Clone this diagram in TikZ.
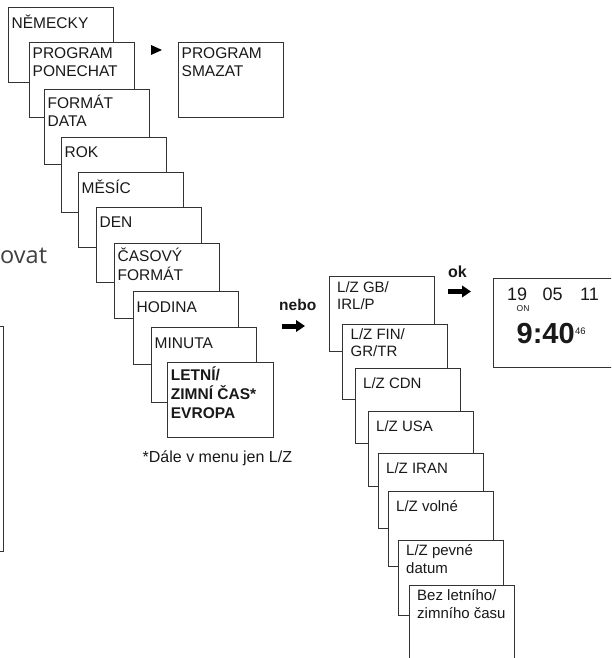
\documentclass[tikz,border=0pt]{standalone}
\usepackage{fontspec}
\setmainfont{Liberation Sans}
\newfontfamily\opensans{Open Sans}
\usetikzlibrary{arrows.meta}
\tikzset{
  box/.style={draw=black!80, line width=0.9pt, fill=white, minimum width=105pt, minimum height=75pt, inner sep=0pt, anchor=north west},
  lbl/.style={anchor=north west, inner sep=0pt, align=left, text=black!90,
    font=\fontsize{15.5}{18.5}\selectfont, execute at begin node={\rule{0pt}{16pt}}},
  lblb/.style={lbl, font=\bfseries\fontsize{15.5}{19}\selectfont},
  lblr/.style={lbl, font=\fontsize{15}{17.7}\selectfont},
  plain/.style={anchor=base west, inner sep=0pt, text=black!90},
  fatarrow/.style={line width=5pt, black, -{Triangle[length=9pt,width=11.5pt]}},
}
\begin{document}
\begin{tikzpicture}[x={(1pt,0)}, y={(0,-1pt)}]
\useasboundingbox (0,0) rectangle (611,658);
\clip (0,0) rectangle (611,658);

% partial box at the left edge and cut-off word
\node[box, minimum height=225pt] (part) at (-102,326) {};
\node[plain, font=\opensans\fontsize{23.5}{24}\selectfont, text=black!75] (ovat) at (0,263) {ovat};

% left cascade
\node[box] (b1) at (8,7) {};
\node[lbl] (t1) at ([shift={(3.5,5)}]b1.north west) {NĚMECKY};
\node[box] (b2) at (29,42) {};
\node[lbl] (t2) at ([shift={(3.5,5)}]b2.north west) {PROGRAM\\PONECHAT};
\node[box] (b3) at (44,89) {};
\node[lbl] (t3) at ([shift={(3.5,5.5)}]b3.north west) {FORMÁT\\DATA};
\node[box] (b4) at (61,137) {};
\node[lbl] (t4) at ([shift={(3.5,4.5)}]b4.north west) {ROK};
\node[box] (b5) at (78,172) {};
\node[lbl] (t5) at ([shift={(3.5,5)}]b5.north west) {MĚSÍC};
\node[box] (b6) at (96,207) {};
\node[lbl] (t6) at ([shift={(3.5,4.5)}]b6.north west) {DEN};
\node[box] (b7) at (114,243) {};
\node[lbl] (t7) at ([shift={(3.5,5)}]b7.north west) {ČASOVÝ\\FORMÁT};
\node[box, minimum height=73pt] (b8) at (133,291) {};
\node[lbl] (t8) at ([shift={(3.5,5)}]b8.north west) {HODINA};
\node[box] (b9) at (151,327) {};
\node[lbl] (t9) at ([shift={(3.5,5)}]b9.north west) {MINUTA};
\node[box, minimum width=106pt] (b10) at (167,362) {};
\node[lblb] (t10) at ([shift={(3.7,4.7)}]b10.north west) {LETNÍ/\\ZIMNÍ ČAS*\\EVROPA};

\node[plain, font=\fontsize{16}{18}\selectfont] (fn) at (142.5,462) {*Dále v menu jen L/Z};

% program delete
\fill[black] (151,45) -- (162,50) -- (151,55) -- cycle;
\node[box] (smz) at (178,42) {};
\node[lbl] (tsmz) at ([shift={(3.5,5)}]smz.north west) {PROGRAM\\SMAZAT};

% nebo
\node[plain, font=\bfseries\fontsize{15.5}{18}\selectfont] (nebo) at (279,310) {nebo};
\coordinate (neboA) at (282,326);
\coordinate (neboB) at (305,326);
\draw[fatarrow] (neboA) -- (neboB);

% right cascade
\node[box] (r1) at (329,276) {};
\node[lblr] (s1) at ([shift={(8,5)}]r1.north west) {L/Z GB/\\IRL/P};
\node[box] (r2) at (342,324) {};
\node[lblr] (s2) at ([shift={(8.5,4)}]r2.north west) {L/Z FIN/\\GR/TR};
\node[box] (r3) at (355,368) {};
\node[lblr] (s3) at ([shift={(8,4)}]r3.north west) {L/Z CDN};
\node[box] (r4) at (368,411) {};
\node[lblr] (s4) at ([shift={(8,4.5)}]r4.north west) {L/Z USA};
\node[box] (r5) at (378,453) {};
\node[lblr] (s5) at ([shift={(8,4.5)}]r5.north west) {L/Z IRAN};
\node[box] (r6) at (388,491) {};
\node[lblr] (s6) at ([shift={(8,4.5)}]r6.north west) {L/Z volné};
\node[box] (r7) at (398,540) {};
\node[lblr] (s7) at ([shift={(8,4.5)}]r7.north west) {L/Z pevné\\datum};
\node[box, minimum height=85pt] (r8) at (409,585) {};
\node[lblr] (s8) at ([shift={(8,4.5)}]r8.north west) {Bez letního/\\zimního času};

% ok
\node[plain, font=\bfseries\fontsize{16}{18}\selectfont] (ok) at (448,277) {ok};
\coordinate (okA) at (448,291.5);
\coordinate (okB) at (471,291.5);
\draw[fatarrow] (okA) -- (okB);

% clock display
\node[box, minimum width=140pt, minimum height=89pt] (clk) at (493,278) {};
\node[plain, font=\fontsize{18}{18}\selectfont] (d19) at (507,300) {19};
\node[plain, font=\fontsize{8.5}{9}\selectfont] (on) at (516.5,311) {ON};
\node[plain, font=\fontsize{18}{18}\selectfont] (d05) at (542.5,300) {05};
\node[plain, font=\fontsize{18}{18}\selectfont] (d11) at (580,300) {11};
\node[plain, font=\bfseries\fontsize{29}{29}\selectfont] (time) at (516.5,343) {9:40};
\node[plain, font=\fontsize{9.5}{10}\selectfont] (sec) at (575,334) {46};
\end{tikzpicture}
\end{document}
